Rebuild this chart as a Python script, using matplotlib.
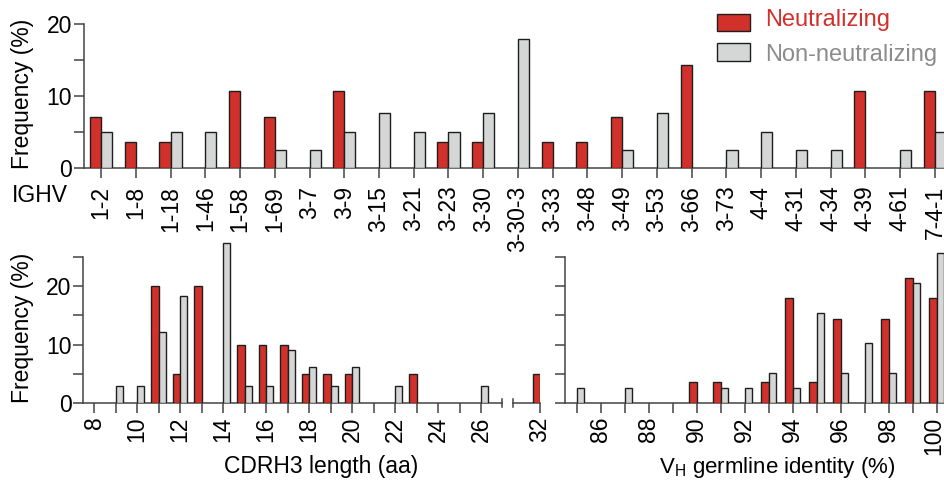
import numpy as np
import matplotlib
matplotlib.use('Agg')
import matplotlib.pyplot as plt
import matplotlib.transforms as mtransforms
from matplotlib.patches import Rectangle

plt.rcParams['font.family'] = ['Liberation Sans', 'DejaVu Sans']
plt.rcParams['mathtext.fontset'] = 'custom'
plt.rcParams['mathtext.rm'] = 'Liberation Sans'
plt.rcParams['mathtext.it'] = 'Liberation Sans'

# ---------------- data ----------------
ighv_genes = ['1-2', '1-8', '1-18', '1-46', '1-58', '1-69', '3-7', '3-9', '3-15',
              '3-21', '3-23', '3-30', '3-30-3', '3-33', '3-48', '3-49', '3-53',
              '3-66', '3-73', '4-4', '4-31', '4-34', '4-39', '4-61', '7-4-1']
ighv_neut = [7.1, 3.6, 3.6, 0, 10.7, 7.1, 0, 10.7, 0, 0, 3.6, 3.6, 0, 3.6, 3.6,
             7.1, 0, 14.3, 0, 0, 0, 0, 10.7, 0, 10.7]
ighv_non = [5.1, 0, 5.1, 5.1, 0, 2.6, 2.6, 5.1, 7.7, 5.1, 5.1, 7.7, 17.9, 0, 0,
            2.6, 7.7, 0, 2.6, 5.1, 2.6, 2.6, 0, 2.6, 5.1]

cdr_len = [9, 10, 11, 12, 13, 14, 15, 16, 17, 18, 19, 20, 22, 23, 26, 32]
cdr_neut = [0, 0, 20, 5, 20, 0, 10, 10, 10, 5, 5, 5, 0, 5, 0, 5]
cdr_non = [3.0, 3.0, 12.1, 18.2, 0, 27.3, 3.0, 3.0, 9.1, 6.1, 3.0, 6.1, 3.0, 0, 3.0, 0]

ident = [85, 86, 87, 88, 89, 90, 91, 92, 93, 94, 95, 96, 97, 98, 99, 100]
ident_neut = [0, 0, 0, 0, 0, 3.6, 3.6, 0, 3.6, 17.9, 3.6, 14.3, 0, 14.3, 21.4, 17.9]
ident_non = [2.6, 0, 2.6, 0, 0, 0, 2.6, 2.6, 5.1, 2.6, 15.4, 5.1, 10.3, 5.1, 20.5, 25.6]

series_labels = ['Neutralizing', 'Non-neutralizing']

# ---------------- style ----------------
RED = '#D1312A'
GREY = '#D4D7D6'
EDGE = '#1e1e1e'
AX = '#444444'
RED_TXT = '#D1312A'
GREY_TXT = '#8C8C8C'
FS = 16.5

W, H = 945, 483
fig = plt.figure(figsize=(9.45, 4.83), dpi=100)


def fr(x0, y0, x1, y1):
    return [x0 / W, 1 - y1 / H, (x1 - x0) / W, (y1 - y0) / H]


def style(ax):
    for s in ['top', 'right']:
        ax.spines[s].set_visible(False)
    for s in ['left', 'bottom']:
        ax.spines[s].set_color(AX)
        ax.spines[s].set_linewidth(1.1)
    ax.tick_params(axis='both', colors=AX, labelcolor='black', width=1.1,
                   length=7.5, labelsize=FS)
    ax.tick_params(axis='y', pad=1)
    ax.set_facecolor('none')


def pair_bars(ax, xs, a, b, w):
    xs = np.asarray(xs, dtype=float)
    a = np.asarray(a, dtype=float)
    b = np.asarray(b, dtype=float)
    ma, mb = a > 0, b > 0
    r = ax.bar(xs[ma] - w / 2, a[ma], width=w, color=RED, edgecolor=EDGE,
               linewidth=1.0, zorder=3)
    g = ax.bar(xs[mb] + w / 2, b[mb], width=w, color=GREY, edgecolor=EDGE,
               linewidth=1.0, zorder=3)
    return r, g


# ---------------- top panel ----------------
ax_top = fig.add_axes(fr(84, 24, 945, 168.3))
style(ax_top)
xt = np.arange(len(ighv_genes))
pair_bars(ax_top, xt, ighv_neut, ighv_non, 0.32)
ax_top.set_xlim(-0.49, 24.29)
ax_top.set_ylim(0, 20)
ax_top.set_yticks([0, 5, 10, 15, 20])
ax_top.set_yticklabels(['0', '', '10', '', '20'])
ax_top.set_xticks(xt)
ax_top.set_xticklabels(ighv_genes, rotation=90)
ax_top.tick_params(axis='x', pad=5)
fig.text(12 / W, 1 - 196 / H, 'IGHV', fontsize=FS, ha='left', va='center')
fig.text(23 / W, 1 - 94 / H, 'Frequency (%)', fontsize=FS, rotation=90,
         ha='center', va='center')

# ---------------- bottom left (CDRH3) ----------------
cl = np.array(cdr_len)
main = cl < 27
ax_cdr = fig.add_axes(fr(83.3, 241.9, 502.5, 403.3))
style(ax_cdr)
pair_bars(ax_cdr, cl[main], np.array(cdr_neut)[main], np.array(cdr_non)[main], 0.34)
ax_cdr.set_xlim(7.5, 27.0)
ax_cdr.set_ylim(0, 27.5)
ax_cdr.spines['left'].set_bounds(0, 25)
ax_cdr.set_yticks([0, 5, 10, 15, 20, 25])
ax_cdr.set_yticklabels(['0', '', '10', '', '20', ''])
ticks = list(range(8, 27))
ax_cdr.set_xticks(ticks)
ax_cdr.set_xticklabels([str(t) if t % 2 == 0 else '' for t in ticks], rotation=90)
ax_cdr.tick_params(axis='x', pad=2)
ax_cdr.plot([1, 1], [-0.026, 0.026], transform=ax_cdr.transAxes, color=AX,
            lw=1.1, clip_on=False)

ax_cdr2 = fig.add_axes(fr(513.3, 241.9, 540, 403.3))
style(ax_cdr2)
pair_bars(ax_cdr2, cl[~main], np.array(cdr_neut)[~main], np.array(cdr_non)[~main], 0.34)
ax_cdr2.set_xlim(30.76, 32.0)
ax_cdr2.set_ylim(0, 27.5)
ax_cdr2.spines['left'].set_visible(False)
ax_cdr2.set_yticks([])
ax_cdr2.set_xticks([32])
ax_cdr2.set_xticklabels(['32'], rotation=90)
ax_cdr2.tick_params(axis='x', pad=2)
ax_cdr2.plot([0, 0], [-0.026, 0.026], transform=ax_cdr2.transAxes, color=AX,
             lw=1.1, clip_on=False)

fig.text(23 / W, 1 - 328 / H, 'Frequency (%)', fontsize=FS, rotation=90,
         ha='center', va='center')
fig.text(321 / W, 1 - 473 / H, 'CDRH3 length (aa)', fontsize=FS,
         ha='center', va='baseline')

# ---------------- bottom right (identity) ----------------
ax_id = fig.add_axes(fr(565, 241.9, 945, 403.3))
style(ax_id)
pair_bars(ax_id, ident, ident_neut, ident_non, 0.31)
ax_id.set_xlim(84.51, 100.35)
ax_id.set_ylim(0, 27.5)
ax_id.spines['left'].set_bounds(0, 25)
ax_id.set_yticks([0, 5, 10, 15, 20, 25])
ax_id.set_yticklabels([''] * 6)
ax_id.set_xticks(ident)
ax_id.set_xticklabels([str(t) if t % 2 == 0 else '' for t in ident], rotation=90)
ax_id.tick_params(axis='x', pad=2)
# nudge the last label ("100") slightly left so it stays inside the figure
last = ax_id.get_xticklabels()[-1]
last.set_transform(last.get_transform() +
                   mtransforms.ScaledTranslation(-3 / 100, 0, fig.dpi_scale_trans))
fig.text(777 / W, 1 - 472.5 / H, r'V$_\mathregular{H}$ germline identity (%)',
         fontsize=16, ha='center', va='baseline')

# ---------------- legend ----------------
fig.add_artist(Rectangle((717 / W, 1 - 31 / H), 33 / W, 17 / H,
                         transform=fig.transFigure, facecolor=RED,
                         edgecolor=EDGE, lw=1.0))
fig.add_artist(Rectangle((717 / W, 1 - 61 / H), 33 / W, 18 / H,
                         transform=fig.transFigure, facecolor=GREY,
                         edgecolor=EDGE, lw=1.0))
fig.text(765 / W, 1 - 26 / H, series_labels[0], color=RED_TXT, fontsize=17,
         ha='left', va='baseline')
fig.text(765 / W, 1 - 61 / H, series_labels[1], color=GREY_TXT, fontsize=17,
         ha='left', va='baseline')

fig.savefig('out.png', dpi=100)
